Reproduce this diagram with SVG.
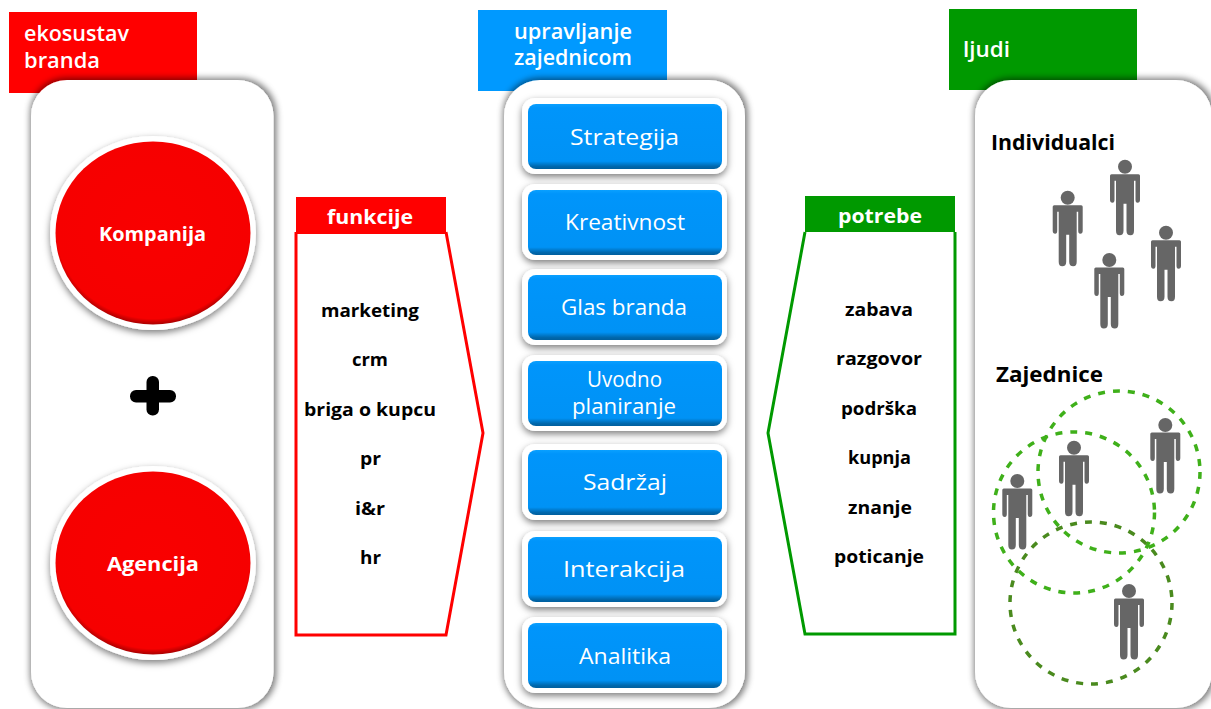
<svg xmlns="http://www.w3.org/2000/svg" xmlns:xlink="http://www.w3.org/1999/xlink" width="1211" height="709" viewBox="0 0 1211 709">
<style>
text{font-family:"Comic Sans MS","Open Sans","DejaVu Sans",sans-serif;text-anchor:middle}
.w{fill:#fff}.k{fill:#000;font-weight:700}
.h{font-size:21px;font-weight:600}.b{font-size:21px}.s{font-size:18px}.m{font-size:19px;font-weight:700}
.panel{fill:#fff;filter:url(#ps)}
.btnbg{fill:#fff;filter:url(#bs)}
.btn{fill:url(#bg)}
.c1{fill:none;stroke:#3fb01a;stroke-width:3.500;stroke-dasharray:7 8}
.c2{fill:none;stroke:#4a8a1e;stroke-width:3.500;stroke-dasharray:7 8}
.p{fill:#666}
</style>
<defs>
<filter id="ps" x="-15%" y="-15%" width="130%" height="130%"><feMorphology in="SourceAlpha" operator="dilate" radius="2" result="d"/><feOffset in="d" dx="1" dy="0" result="o"/><feGaussianBlur in="o" stdDeviation="3" result="bl"/><feFlood flood-color="#000" flood-opacity=".5"/><feComposite in2="bl" operator="in" result="sh"/><feMerge><feMergeNode in="sh"/><feMergeNode in="SourceGraphic"/></feMerge></filter>
<filter id="bs" x="-10%" y="-20%" width="120%" height="140%"><feDropShadow dx="0" dy="3" stdDeviation="3.500" flood-color="#000" flood-opacity=".5"/></filter>
<linearGradient id="bg" x1="0" y1="0" x2="0" y2="1"><stop offset="0" stop-color="#0aa0ff"/><stop offset=".06" stop-color="#0095fb"/><stop offset=".88" stop-color="#0092f5"/><stop offset=".96" stop-color="#0068ad"/><stop offset="1" stop-color="#005f9e"/></linearGradient>
<radialGradient id="rg" cx=".5" cy=".47" r=".53"><stop offset="0" stop-color="#f90000"/><stop offset=".94" stop-color="#f60000"/><stop offset="1" stop-color="#a80000"/></radialGradient>
<g id="person"><circle cx="0" cy="0" r="7" class="p"/><path class="p" d="M-13.500 7.500H13.500Q15 7.500 15 9V33Q15 36 12.500 36Q10.500 36 10.500 33V14H9V64Q9 68.500 5.500 68.500Q1.500 68.500 1.500 64V37H-1.500V64Q-1.500 68.500 -5.500 68.500Q-9 68.500 -9 64V14H-10.500V33Q-10.500 36 -12.500 36Q-15 36 -15 33V9Q-15 7.500 -13.500 7.500Z"/></g>
</defs>

<g id="header-ekosustav"><rect x="9" y="12" width="188" height="81" fill="#f00"/><text class="w h" x="76.500" y="41" textLength="105" lengthAdjust="spacingAndGlyphs">ekosustav</text><text class="w h" x="62" y="68" textLength="76" lengthAdjust="spacingAndGlyphs">branda</text></g>
<g id="header-upravljanje"><rect x="478" y="10" width="189" height="81" fill="#09f"/><text class="w h" x="573" y="39" textLength="118" lengthAdjust="spacingAndGlyphs">upravljanje</text><text class="w h" x="573" y="65" textLength="118" lengthAdjust="spacingAndGlyphs">zajednicom</text></g>
<g id="header-ljudi"><rect x="949" y="9" width="188" height="81" fill="#090"/><text class="w h" x="986.500" y="57" textLength="47" lengthAdjust="spacingAndGlyphs">ljudi</text></g>

<g id="panel-ekosustav">
<rect class="panel" x="31" y="80" width="242.500" height="628" rx="36"/>
<g id="node-kompanija"><ellipse cx="153" cy="233" rx="103" ry="97" fill="#fff" filter="url(#bs)"/><ellipse cx="153" cy="233" rx="97.500" ry="91.500" fill="url(#rg)"/><text class="w m" x="152.500" y="241" textLength="107" lengthAdjust="spacingAndGlyphs">Kompanija</text></g>
<g id="plus" fill="#000"><rect x="146.500" y="376" width="12.500" height="39.500" rx="6"/><rect x="130" y="390" width="46" height="12.500" rx="6"/></g>
<g id="node-agencija"><ellipse cx="153" cy="563" rx="103" ry="97" fill="#fff" filter="url(#bs)"/><ellipse cx="153" cy="563" rx="97.500" ry="91.500" fill="url(#rg)"/><text class="w m" x="153" y="571" textLength="92" lengthAdjust="spacingAndGlyphs">Agencija</text></g>
</g>

<g id="panel-upravljanje">
<rect class="panel" x="504" y="80" width="241" height="628" rx="36"/>
<g id="btn-strategija"><rect class="btnbg" x="522" y="98" width="205" height="76" rx="13"/><rect class="btn" x="528" y="104" width="194" height="65" rx="8"/><text class="w b" x="624.500" y="145" textLength="109" lengthAdjust="spacingAndGlyphs">Strategija</text></g>
<g id="btn-kreativnost"><rect class="btnbg" x="522" y="184" width="205" height="76" rx="13"/><rect class="btn" x="528" y="190" width="194" height="65" rx="8"/><text class="w b" x="625" y="230" textLength="120" lengthAdjust="spacingAndGlyphs">Kreativnost</text></g>
<g id="btn-glas"><rect class="btnbg" x="522" y="269" width="205" height="76" rx="13"/><rect class="btn" x="528" y="275" width="194" height="65" rx="8"/><text class="w b" x="624" y="315" textLength="126" lengthAdjust="spacingAndGlyphs">Glas branda</text></g>
<g id="btn-uvodno"><rect class="btnbg" x="522" y="355" width="205" height="76" rx="13"/><rect class="btn" x="528" y="361" width="194" height="65" rx="8"/><text class="w b" x="624.500" y="387" textLength="75" lengthAdjust="spacingAndGlyphs">Uvodno</text><text class="w b" x="624" y="414" textLength="104" lengthAdjust="spacingAndGlyphs">planiranje</text></g>
<g id="btn-sadrzaj"><rect class="btnbg" x="522" y="444" width="205" height="76" rx="13"/><rect class="btn" x="528" y="450" width="194" height="65" rx="8"/><text class="w b" x="625" y="490" textLength="84" lengthAdjust="spacingAndGlyphs">Sadržaj</text></g>
<g id="btn-interakcija"><rect class="btnbg" x="522" y="531" width="205" height="76" rx="13"/><rect class="btn" x="528" y="537" width="194" height="65" rx="8"/><text class="w b" x="624" y="577" textLength="122" lengthAdjust="spacingAndGlyphs">Interakcija</text></g>
<g id="btn-analitika"><rect class="btnbg" x="522" y="617" width="205" height="76" rx="13"/><rect class="btn" x="528" y="623" width="194" height="65" rx="8"/><text class="w b" x="625" y="664" textLength="92" lengthAdjust="spacingAndGlyphs">Analitika</text></g>
</g>

<g id="panel-ljudi">
<rect class="panel" x="975" y="80" width="237" height="628" rx="36"/>
<text class="k" font-size="21" x="1053" y="150" textLength="124" lengthAdjust="spacingAndGlyphs">Individualci</text>
<use xlink:href="#person" href="#person" x="1067.700" y="197.700"/>
<use xlink:href="#person" href="#person" x="1125" y="166.700"/>
<use xlink:href="#person" href="#person" x="1166" y="232.700"/>
<use xlink:href="#person" href="#person" x="1109.300" y="260"/>
<text class="k" font-size="21" x="1049.500" y="382" textLength="107" lengthAdjust="spacingAndGlyphs">Zajednice</text>
<use xlink:href="#person" href="#person" x="1017.300" y="481"/>
<use xlink:href="#person" href="#person" x="1074" y="447.700"/>
<use xlink:href="#person" href="#person" x="1165.300" y="425"/>
<use xlink:href="#person" href="#person" x="1129" y="591"/>
<circle class="c1" cx="1119" cy="472" r="81"/>
<circle class="c1" cx="1074" cy="512.500" r="80.500"/>
<circle class="c2" cx="1091" cy="603" r="81"/>
</g>

<g id="node-funkcije">
<path d="M296 232V635H446L483 433L446 232" fill="#fff" stroke="#f00" stroke-width="3"/>
<rect x="296" y="197" width="150" height="37" fill="#f00"/>
<text class="w m" x="370" y="224" textLength="86" lengthAdjust="spacingAndGlyphs">funkcije</text>
<text class="k s" x="370" y="317" textLength="98" lengthAdjust="spacingAndGlyphs">marketing</text>
<text class="k s" x="370" y="366" textLength="36" lengthAdjust="spacingAndGlyphs">crm</text>
<text class="k s" x="370" y="416" textLength="132" lengthAdjust="spacingAndGlyphs">briga o kupcu</text>
<text class="k s" x="370.500" y="465" textLength="21" lengthAdjust="spacingAndGlyphs">pr</text>
<text class="k s" x="370" y="515" textLength="30" lengthAdjust="spacingAndGlyphs">i&amp;r</text>
<text class="k s" x="370.500" y="564" textLength="21" lengthAdjust="spacingAndGlyphs">hr</text>
</g>

<g id="node-potrebe">
<path d="M955 232V634H805L768 433L805 232" fill="#fff" stroke="#090" stroke-width="3"/>
<rect x="805" y="196" width="150" height="36" fill="#090"/>
<text class="w m" x="880" y="223" textLength="84" lengthAdjust="spacingAndGlyphs">potrebe</text>
<text class="k s" x="879" y="316" textLength="68" lengthAdjust="spacingAndGlyphs">zabava</text>
<text class="k s" x="879" y="365" textLength="86" lengthAdjust="spacingAndGlyphs">razgovor</text>
<text class="k s" x="879" y="415" textLength="76" lengthAdjust="spacingAndGlyphs">podrška</text>
<text class="k s" x="879.500" y="464" textLength="63" lengthAdjust="spacingAndGlyphs">kupnja</text>
<text class="k s" x="880" y="514" textLength="64" lengthAdjust="spacingAndGlyphs">znanje</text>
<text class="k s" x="879" y="563" textLength="90" lengthAdjust="spacingAndGlyphs">poticanje</text>
</g>
<g id="connectors"/>
</svg>
